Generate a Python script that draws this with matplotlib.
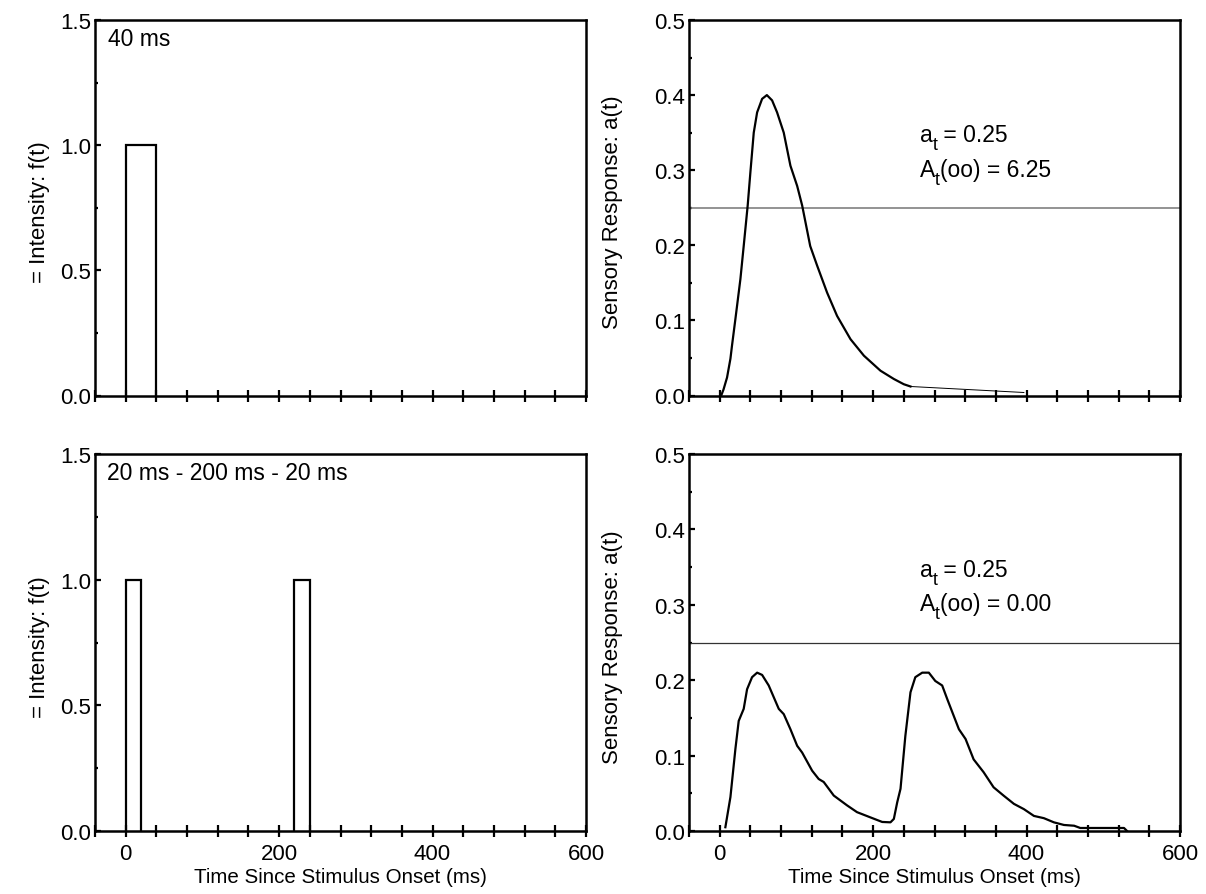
import matplotlib
matplotlib.use("Agg")
import matplotlib.pyplot as plt
from matplotlib.ticker import MultipleLocator, FixedLocator, FormatStrFormatter
from matplotlib.transforms import offset_copy

plt.rcParams['font.family'] = ['Liberation Sans', 'DejaVu Sans']

# ---- data ----
pulse1_t = [0, 0, 40, 40]
pulse1_f = [0, 1, 1, 0]
pulse2a_t = [0, 0, 20, 20]
pulse2a_f = [0, 1, 1, 0]
pulse2b_t = [220, 220, 240, 240]
pulse2b_f = [0, 1, 1, 0]

resp1_t = [2, 5, 9.6, 14, 16, 20.5, 27, 31.3, 36.5, 40, 44.4, 48.8, 55.3, 61.5,
           68.3, 74.8, 83.5, 92.2, 101, 107.5, 118, 127, 140, 153, 170.5, 188,
           209.6, 227, 240, 248.7]
resp1_a = [0.0, 0.008, 0.024, 0.049, 0.066, 0.102, 0.155, 0.199, 0.253, 0.297,
           0.350, 0.377, 0.395, 0.400, 0.393, 0.377, 0.350, 0.306, 0.279, 0.253,
           0.199, 0.173, 0.137, 0.106, 0.075, 0.053, 0.033, 0.022, 0.015, 0.012]
tail1_t = [248.7, 396.5]
tail1_a = [0.012, 0.004]

resp2_t = [7.4, 14, 20.5, 24.8, 31.3, 35.7, 42.2, 48.8, 55.3, 63.9, 77, 83.5,
           92.2, 101, 107.5, 120.5, 129, 135.6, 148.7, 166, 179, 196.6, 211.8,
           222.6, 227, 231.4, 235.7, 242, 248.7, 255, 264, 272.6, 281, 290,
           296.6, 311.8, 320.5, 331, 344, 357, 370, 383.5, 396.5, 409.6, 422.6,
           435.6, 448.7, 462, 470, 500, 527, 531]
resp2_a = [0.005, 0.045, 0.109, 0.146, 0.162, 0.188, 0.204, 0.210, 0.207, 0.193,
           0.162, 0.155, 0.135, 0.113, 0.104, 0.080, 0.069, 0.065, 0.047, 0.034,
           0.025, 0.018, 0.012, 0.0115, 0.016, 0.038, 0.056, 0.126, 0.184, 0.204,
           0.210, 0.210, 0.199, 0.193, 0.175, 0.135, 0.122, 0.095, 0.078, 0.058,
           0.047, 0.036, 0.029, 0.020, 0.017, 0.0115, 0.008, 0.007, 0.004, 0.004,
           0.004, 0.0]

threshold = 0.25
title_top = "40 ms"
title_bot = "20 ms - 200 ms - 20 ms"
stats_top = [("a", "t", " = 0.25"), ("A", "t", "(oo) = 6.25")]
stats_bot = [("a", "t", " = 0.25"), ("A", "t", "(oo) = 0.00")]

FS_TICK = 16
FS_LAB = 14.8
FS_YLAB = 16
FS_TXT = 16.5

fig = plt.figure(figsize=(12.06, 8.95), dpi=100)
renderer = fig.canvas.get_renderer()

lx0, rx0, w = 95/1206, 689/1206, 491/1206
tb, th = (895-396.5)/895, 375.5/895
bb, bh = (895-832)/895, 377/895

ax_tl = fig.add_axes([lx0, tb, w, th])
ax_tr = fig.add_axes([rx0, tb, w, th])
ax_bl = fig.add_axes([lx0, bb, w, bh])
ax_br = fig.add_axes([rx0, bb, w, bh])

def style(ax, ymax, ymaj, ymin):
    ax.set_xlim(-40, 600)
    ax.set_ylim(0, ymax)
    for s in ax.spines.values():
        s.set_linewidth(1.8)
    ax.xaxis.set_major_locator(FixedLocator([0, 200, 400, 600]))
    ax.xaxis.set_minor_locator(MultipleLocator(40))
    ax.yaxis.set_major_locator(MultipleLocator(ymaj))
    ax.yaxis.set_minor_locator(MultipleLocator(ymin))
    ax.tick_params(axis='x', which='both', direction='inout', length=8, width=1.6,
                   labelsize=FS_TICK, pad=5, top=False)
    ax.tick_params(axis='y', which='major', direction='in', length=4, width=1.6,
                   labelsize=FS_TICK, pad=3, right=False)
    ax.tick_params(axis='y', which='minor', direction='in', length=2, width=1.6,
                   right=False)
    ax.yaxis.set_major_formatter(FormatStrFormatter('%.1f'))

for ax in (ax_tl, ax_bl):
    style(ax, 1.5, 0.5, 0.25)
    ax.set_ylabel("= Intensity: f(t)", fontsize=FS_YLAB)
    ax.yaxis.set_label_coords((50 - 95) / 491, 0.49)
for ax in (ax_tr, ax_br):
    style(ax, 0.5, 0.1, 0.05)
    ax.set_ylabel("Sensory Response: a(t)", fontsize=FS_YLAB)
    ax.yaxis.set_label_coords((623 - 689) / 491, 0.49)

ax_tl.tick_params(axis='x', labelbottom=False)
ax_tr.tick_params(axis='x', labelbottom=False)
ax_bl.set_xlabel("Time Since Stimulus Onset (ms)", fontsize=FS_LAB, labelpad=2)
ax_br.set_xlabel("Time Since Stimulus Onset (ms)", fontsize=FS_LAB, labelpad=2)

ax_tl.plot(pulse1_t, pulse1_f, color='black', lw=1.6, solid_joinstyle='miter')
ax_bl.plot(pulse2a_t, pulse2a_f, color='black', lw=1.6, solid_joinstyle='miter')
ax_bl.plot(pulse2b_t, pulse2b_f, color='black', lw=1.6, solid_joinstyle='miter')

ax_tr.axhline(threshold, color='#808080', lw=1.2)
ax_tr.plot(resp1_t, resp1_a, color='black', lw=1.6)
ax_tr.plot(tail1_t, tail1_a, color='black', lw=0.7)
ax_br.axhline(threshold, color='#333333', lw=0.9)
ax_br.plot(resp2_t, resp2_a, color='black', lw=1.6)

ax_tl.text(0.0265, 0.951, title_top, transform=ax_tl.transAxes, fontsize=FS_TXT, va='center')
ax_bl.text(0.0235, 0.952, title_bot, transform=ax_bl.transAxes, fontsize=FS_TXT, va='center')

def sub_text(ax, x, y, parts):
    base, sub, rest = parts
    t1 = ax.text(x, y, base, transform=ax.transAxes, fontsize=FS_TXT, va='baseline')
    w1 = t1.get_window_extent(renderer).width
    tr2 = offset_copy(ax.transAxes, fig=fig, x=w1 * 72 / fig.dpi, y=-6, units='points')
    t2 = ax.text(x, y, sub, transform=tr2, fontsize=FS_TXT * 0.78, va='baseline')
    w2 = t2.get_window_extent(renderer).width
    tr3 = offset_copy(ax.transAxes, fig=fig, x=(w1 + w2) * 72 / fig.dpi, y=0, units='points')
    ax.text(x, y, rest, transform=tr3, fontsize=FS_TXT, va='baseline')

sub_text(ax_tr, 0.470, (396.5-142)/375.5, stats_top[0])
sub_text(ax_tr, 0.470, (396.5-177)/375.5, stats_top[1])
sub_text(ax_br, 0.470, (832-577)/377, stats_bot[0])
sub_text(ax_br, 0.470, (832-611)/377, stats_bot[1])

fig.savefig("out.png", dpi=100)
